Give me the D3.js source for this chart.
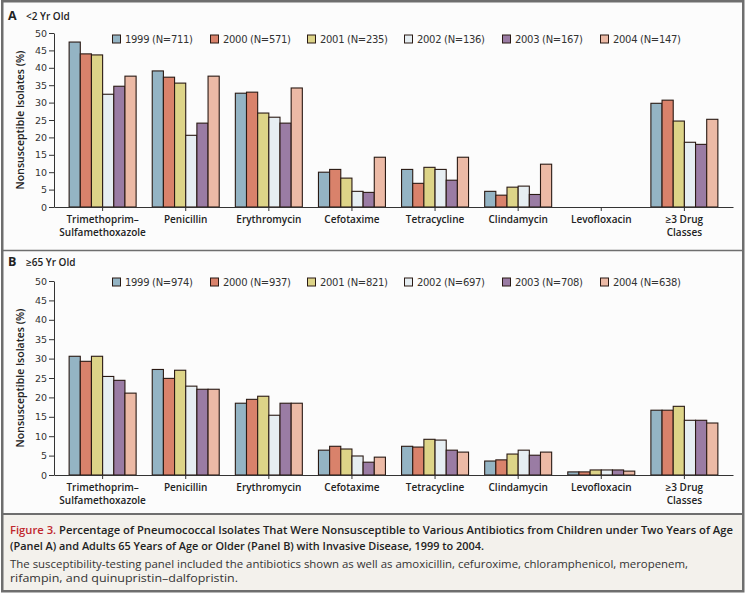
<!DOCTYPE html>
<html><head><meta charset="utf-8">
<script src="https://cdn.jsdelivr.net/npm/d3@7"></script>
<style>body{margin:0;background:#fff}svg{display:block}</style>
</head><body>
<svg id="c" width="747" height="595"></svg>
<script>
const categories = ["Trimethoprim–\nSulfamethoxazole","Penicillin","Erythromycin","Cefotaxime","Tetracycline","Clindamycin","Levofloxacin","≥3 Drug\nClasses"];
const years = ["1999","2000","2001","2002","2003","2004"];
const nA = [711,571,235,136,167,147];
const nB = [974,937,821,697,708,638];
const yTicks = [0,5,10,15,20,25,30,35,40,45,50];
// values[category][year]
const valuesA = [
  [47.4,44.0,43.7,32.4,34.7,37.6],
  [39.1,37.3,35.6,20.6,24.1,37.6],
  [32.7,33.0,27.0,25.8,24.1,34.2],
  [10.0,10.8,8.3,4.5,4.2,14.3],
  [10.8,6.8,11.4,10.8,7.7,14.3],
  [4.5,3.4,5.7,6.0,3.6,12.3],
  [0,0,0,0,0,0],
  [29.8,30.7,24.7,18.6,18.0,25.2]
];
const valuesB = [
  [30.6,29.3,30.6,25.4,24.4,21.1],
  [27.2,24.9,27.0,22.9,22.1,22.1],
  [18.5,19.5,20.3,15.4,18.5,18.5],
  [6.4,7.4,6.7,4.9,3.3,4.6],
  [7.4,7.2,9.2,9.0,6.4,5.9],
  [3.6,3.9,5.4,6.4,5.1,5.9],
  [0.8,0.8,1.3,1.3,1.3,1.0],
  [16.7,16.7,17.7,14.1,14.1,13.4]
];
const colors = ["#94b4c4","#d9826b","#ddd488","#e6eef2","#9a7ca4","#ecbaa6"];

const svg = d3.select("#c");
const FONT = "'Open Sans', sans-serif";
const LFONT = "'DejaVu Sans', sans-serif";

// backgrounds and frame
svg.append("rect").attr("x",2).attr("y",1).attr("width",741).attr("height",513).attr("fill","#fcfcfc");
svg.append("rect").attr("x",2).attr("y",514).attr("width",741).attr("height",77).attr("fill","#f3f1ec");
svg.append("rect").attr("x",2.25).attr("y",1.25).attr("width",741).attr("height",590).attr("fill","none").attr("stroke","#6e6e6e").attr("stroke-width",2.5);
svg.append("line").attr("x1",2).attr("x2",743).attr("y1",250.5).attr("y2",250.5).attr("stroke","#6e6e6e").attr("stroke-width",1.6);
svg.append("line").attr("x1",2).attr("x2",743).attr("y1",514).attr("y2",514).attr("stroke","#6e6e6e").attr("stroke-width",2);

const x0 = d3.scaleBand().domain(categories).range([54,733]).paddingInner(0.194).paddingOuter(0.182);
const x1 = d3.scaleBand().domain(years).range([0,x0.bandwidth()]);

function panel(letter, title, top, bottom, values, ns, legendY, titleY, labelY){
  const g = svg.append("g");
  const y = d3.scaleLinear().domain([0,50]).range([bottom, top]);
  // titles
  g.append("text").attr("x",8).attr("y",titleY).attr("font-family",FONT).attr("font-weight",700).attr("font-size",12.5).attr("fill","#222").text(letter);
  g.append("text").attr("x",26).attr("y",titleY-0.5).attr("font-family",FONT).attr("font-weight",600).attr("font-size",10).attr("fill","#222").text(title);
  // y axis
  const ya = g.append("g").attr("transform","translate(54,0)").call(d3.axisLeft(y).tickValues(yTicks).tickSize(5).tickPadding(2).tickSizeOuter(0));
  ya.select(".domain").attr("stroke","#333");
  ya.selectAll(".tick line").attr("stroke","#333");
  ya.selectAll("text").attr("font-family",LFONT).attr("font-size",9.5).attr("fill","#333");
  g.append("text").attr("transform",`translate(24,${(top+bottom)/2}) rotate(-90)`).attr("text-anchor","middle")
    .attr("font-family",FONT).attr("font-weight",600).attr("font-size",10.5).attr("fill","#222").text("Nonsusceptible Isolates (%)");
  // bars
  categories.forEach((c,ci)=>{
    const gg = g.append("g").attr("transform",`translate(${x0(c)},0)`);
    gg.selectAll("rect").data(values[ci]).join("rect")
      .filter(d=>d>0)
      .attr("x",(d,i)=>x1(years[i])).attr("width",x1.bandwidth())
      .attr("y",d=>y(d)).attr("height",d=>y(0)-y(d))
      .attr("fill",(d,i)=>colors[i]).attr("stroke","#2a1a14").attr("stroke-width",1.1);
  });
  // x axis
  const xa = g.append("g").attr("transform",`translate(0,${bottom})`).call(d3.axisBottom(x0).tickSize(4).tickSizeOuter(0).tickFormat(""));
  xa.select(".domain").attr("stroke","#333").attr("stroke-width",1.2);
  xa.selectAll(".tick line").attr("stroke","#333");
  categories.forEach(c=>{
    const lines = c.split("\n");
    const t = g.append("text").attr("x",x0(c)+x0.bandwidth()/2).attr("y",labelY).attr("text-anchor","middle")
      .attr("font-family",FONT).attr("font-weight",600).attr("font-size",10).attr("fill","#222");
    lines.forEach((l,i)=>t.append("tspan").attr("x",x0(c)+x0.bandwidth()/2).attr("dy",i===0?0:13).text(l));
  });
  // legend
  const lx = [112,210,307,404,502,600];
  years.forEach((yr,i)=>{
    g.append("rect").attr("x",lx[i]+0.5).attr("y",legendY-4).attr("width",8).attr("height",8)
      .attr("fill",colors[i]).attr("stroke","#2a1a14").attr("stroke-width",1);
    g.append("text").attr("x",lx[i]+13).attr("y",legendY+3.5).attr("font-family",LFONT).attr("font-size",10).attr("fill","#333")
      .attr("textLength",68).attr("lengthAdjust","spacing")
      .text(`${yr} (N=${ns[i]})`);
  });
}

panel("A","<2 Yr Old",33,207,valuesA,nA,39,20,223);
panel("B","≥65 Yr Old",281,475,valuesB,nB,282,266,491);

// caption
const cap = svg.append("g").attr("font-family",FONT);
const l1 = cap.append("text").attr("x",10).attr("y",534).attr("font-size",11).attr("font-weight",600).attr("fill","#222")
  .attr("textLength",723).attr("lengthAdjust","spacingAndGlyphs");
l1.append("tspan").attr("fill","#c0272d").text("Figure 3. ");
l1.append("tspan").text("Percentage of Pneumococcal Isolates That Were Nonsusceptible to Various Antibiotics from Children under Two Years of Age");
cap.append("text").attr("x",10).attr("y",550).attr("font-size",11).attr("font-weight",600).attr("fill","#222")
  .attr("textLength",474).attr("lengthAdjust","spacingAndGlyphs")
  .text("(Panel A) and Adults 65 Years of Age or Older (Panel B) with Invasive Disease, 1999 to 2004.");
cap.append("text").attr("x",10).attr("y",568).attr("font-size",11).attr("fill","#333")
  .attr("textLength",678).attr("lengthAdjust","spacingAndGlyphs")
  .text("The susceptibility-testing panel included the antibiotics shown as well as amoxicillin, cefuroxime, chloramphenicol, meropenem,");
cap.append("text").attr("x",10).attr("y",582).attr("font-size",11).attr("fill","#333")
  .attr("textLength",228).attr("lengthAdjust","spacingAndGlyphs")
  .text("rifampin, and quinupristin–dalfopristin.");
</script>
</body></html>
